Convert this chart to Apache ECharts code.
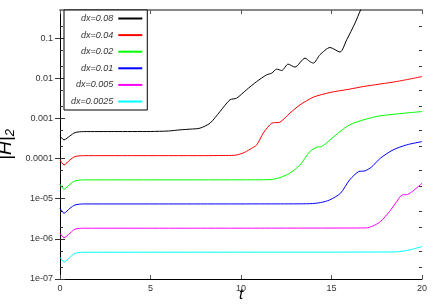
<!DOCTYPE html>
<html><head><meta charset="utf-8">
<script src="https://cdn.jsdelivr.net/npm/echarts@6/dist/echarts.min.js"></script>
<style>html,body{margin:0;padding:0;background:#fff}#c{width:436px;height:305px}</style>
</head><body><div id="c"></div>
<script>
const seriesNames = ['dx=0.08','dx=0.04','dx=0.02','dx=0.01','dx=0.005','dx=0.0025'];
const seriesColors = ['#000000','#ff0000','#00ff00','#0000ff','#ff00ff','#00ffff'];

const tBlack = [0,0.22,0.55,0.83,1.3,3,5,6,6.63,7.2,7.73,8.29,8.84,9.39,9.76,10.3,10.87,11.42,11.7,11.97,12.25,12.6,12.98,13.54,13.8,14.0,14.36,14.92,15.47,15.84,16.3,16.61,16.9];
const vBlack = [3.66e-4,2.91e-4,3.66e-4,4.43e-4,4.69e-4,4.7e-4,4.72e-4,4.85e-4,5.18e-4,5.4e-4,5.7e-4,7.6e-4,1.48e-3,2.9e-3,3.19e-3,5.14e-3,8.28e-3,0.01216,0.0134,0.01687,0.01556,0.02244,0.01892,0.0317,0.0261,0.0238,0.0383,0.0582,0.0448,0.0906,0.236,0.507,1.0];

const tRed = [0,0.22,0.55,0.83,1.3,4,8,9.0,9.6,10.1,10.5,10.87,11.23,11.7,12.15,12.7,13.26,14.0,14.92,16.0,16.76,18.6,20];
const vRed = [9.25e-5,6.93e-5,9.25e-5,1.12e-4,1.18e-4,1.18e-4,1.18e-4,1.19e-4,1.2e-4,1.36e-4,1.7e-4,2.19e-4,4.29e-4,7.6e-4,8.05e-4,1.35e-3,2.17e-3,3.38e-3,4.41e-3,5.35e-3,6.21e-3,8.28e-3,0.011];

const tGreen = [0,0.22,0.55,0.83,1.3,5,10,11.6,12.15,12.7,13.26,13.8,14.18,14.46,14.92,15.47,16.0,16.76,17.68,20];
const vGreen = [2.29e-5,1.72e-5,2.29e-5,2.77e-5,2.94e-5,2.94e-5,2.95e-5,2.98e-5,3.35e-5,4.32e-5,6.93e-5,1.49e-4,1.92e-4,1.99e-4,2.92e-4,4.69e-4,6.89e-4,9.18e-4,1.156e-3,1.48e-3];

const tBlue = [0,0.22,0.55,0.83,1.3,6,12,13.8,14.4,14.9,15.5,16.0,16.5,16.85,17.2,17.7,18.4,19.15,20];
const vBlue = [5.78e-6,4.35e-6,5.78e-6,6.98e-6,7.4e-6,7.4e-6,7.42e-6,7.5e-6,8.0e-6,9.31e-6,1.37e-5,2.94e-5,4.72e-5,4.92e-5,6.08e-5,1.02e-4,1.64e-4,2.19e-4,2.64e-4];

const tMagenta = [0,0.22,0.55,0.83,1.3,6,12,16.9,17.3,17.7,18.2,18.6,18.9,19.2,20];
const vMagenta = [1.38e-6,1.07e-6,1.38e-6,1.74e-6,1.84e-6,1.84e-6,1.85e-6,1.87e-6,2.1e-6,2.68e-6,4.75e-6,8.45e-6,1.24e-5,1.27e-5,2.43e-5];

const tCyan = [0,0.22,0.55,0.83,1.3,8,16,18.6,19.3,20];
const vCyan = [3.47e-7,2.65e-7,3.47e-7,4.37e-7,4.63e-7,4.65e-7,4.68e-7,4.75e-7,5.3e-7,6.4e-7];

const yMajorTicks = [1e-7,1e-6,1e-5,1e-4,1e-3,1e-2,1e-1];
const yTickLabels = ['1e-07','1e-06','1e-05','0.0001','0.001','0.01','0.1'];
const yMinorTicks = [2e-7,5e-7,2e-6,5e-6,2e-5,5e-5,2e-4,5e-4,2e-3,5e-3,2e-2,5e-2,2e-1];
const xTicks = [0,5,10,15,20];

const allT = [tBlack,tRed,tGreen,tBlue,tMagenta,tCyan];
const allV = [vBlack,vRed,vGreen,vBlue,vMagenta,vCyan];

const chart = echarts.init(document.getElementById('c'), null, {renderer:'canvas'});
const font = 'Liberation Sans, Arial, sans-serif';
function labelFor(v){
  for (let i=0;i<yMajorTicks.length;i++){ if (Math.abs(Math.log10(v)-Math.log10(yMajorTicks[i]))<1e-6) return yTickLabels[i]; }
  return '';
}
const yCommon = {type:'log', logBase:10, min:1e-7, max:0.5, splitLine:{show:false}};
chart.setOption({
  animation:false,
  backgroundColor:'#fff',
  grid:{left:60,right:14,top:10,bottom:26,containLabel:false,outerBoundsMode:'none'},
  legend:{
    show:true, orient:'vertical', left:64, top:10, align:'right',
    data:seriesNames, icon:'rect', itemWidth:24, itemHeight:2, itemGap:3.6,
    padding:[2,5,2,7], borderColor:'#000', borderWidth:1, backgroundColor:'#fff',
    textStyle:{fontFamily:font, fontSize:9, fontStyle:'italic', color:'#333', lineHeight:13},
    selectedMode:false
  },
  xAxis:[
    {type:'value', min:0, max:20, interval:5, position:'bottom',
     axisLine:{lineStyle:{color:'#000',width:1}},
     axisTick:{inside:true,length:4,lineStyle:{color:'#555'}},
     axisLabel:{margin:5,fontFamily:font,fontSize:9,color:'#333',customValues:xTicks},
     splitLine:{show:false},
     name:'t', nameLocation:'middle', nameGap:8, nameMoveOverlap:false,
     nameTextStyle:{fontFamily:font,fontSize:15,fontStyle:'italic',color:'#000',verticalAlign:'top'}},
    {type:'value', min:0, max:20, interval:5, position:'top',
     axisLine:{lineStyle:{color:'#888',width:2}},
     axisTick:{inside:true,length:4,lineStyle:{color:'#555'}},
     axisLabel:{show:false}, splitLine:{show:false}}
  ],
  yAxis:[
    Object.assign({}, yCommon, {position:'left',
     axisLine:{show:true,lineStyle:{color:'#000',width:1}},
     axisTick:{show:true,inside:true,length:5,customValues:yMajorTicks,lineStyle:{color:'#333'}},
     axisLabel:{show:true,margin:7,fontFamily:font,fontSize:9,color:'#333',customValues:yMajorTicks,formatter:labelFor},
     name:'{m||H|}{s|2}', nameLocation:'middle', nameGap:43, nameRotate:90, nameMoveOverlap:false,
     nameTextStyle:{rich:{
       m:{fontFamily:font,fontSize:19,fontStyle:'italic',color:'#000',lineHeight:22,verticalAlign:'middle'},
       s:{fontFamily:font,fontSize:13,fontStyle:'italic',color:'#000',lineHeight:13,verticalAlign:'bottom'}}}}),
    Object.assign({}, yCommon, {position:'right',
     axisLine:{show:true,lineStyle:{color:'#000',width:1}},
     axisTick:{show:true,inside:true,length:5,customValues:yMajorTicks,lineStyle:{color:'#333'}},
     axisLabel:{show:false}}),
    Object.assign({}, yCommon, {position:'left', offset:0,
     axisLine:{show:false},
     axisTick:{show:true,inside:true,length:3,customValues:yMinorTicks,lineStyle:{color:'#333'}},
     axisLabel:{show:false}}),
    Object.assign({}, yCommon, {position:'right', offset:0,
     axisLine:{show:false},
     axisTick:{show:true,inside:true,length:3,customValues:yMinorTicks,lineStyle:{color:'#333'}},
     axisLabel:{show:false}})
  ],
  series: seriesNames.map((n,i)=>({
    name:n, type:'line', xAxisIndex:0, yAxisIndex:0,
    data: allT[i].map((t,j)=>[t, allV[i][j]]),
    showSymbol:false, symbol:'none', smooth:0.25, clip:true,
    lineStyle:{color:seriesColors[i], width:1},
    itemStyle:{color:seriesColors[i]},
    z: 10-i
  }))
});
</script></body></html>
